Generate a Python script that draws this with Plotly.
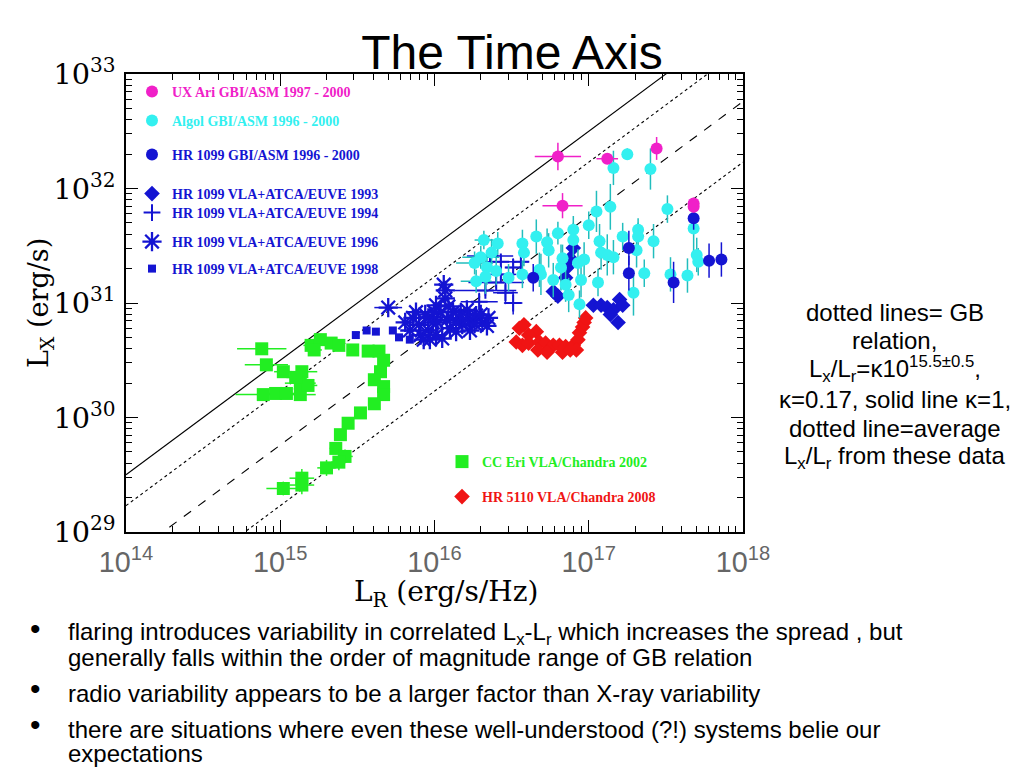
import numpy as np
import plotly.graph_objects as go

# ---------------- data (log10 values) ----------------
# CC Eri VLA/Chandra 2002 (green squares)
cc_lr = [14.88,14.91,15.02,15.14,14.89,14.97,15.04,15.13,15.13,15.18,15.10,15.20,15.26,15.33,15.38,15.22,15.47,15.57,
         15.64,15.67,15.65,15.61,15.67,15.67,15.61,15.52,15.44,15.39,15.36,15.42,15.38,15.30,15.14,15.14,15.02]
cc_lx = [30.60,30.46,30.40,30.40,30.20,30.21,30.21,30.20,30.30,30.28,30.35,30.63,30.68,30.65,30.63,30.59,30.59,30.58,
         30.58,30.50,30.40,30.33,30.27,30.20,30.12,30.04,29.95,29.85,29.73,29.66,29.61,29.56,29.47,29.41,29.38]
cc_xerr = [0.16,0.14,0.06,0.10,0.18,0.08,0.08,0.10,0.10,0.06,0.06,0.05,0.05,0.05,0.04,0.05,0.03,0.03,
           0.03,0.03,0.03,0.03,0.03,0.03,0.03,0.03,0.03,0.03,0.04,0.05,0.05,0.06,0.08,0.08,0.11]
cc_yerr = [0.02,0.02,0.02,0.03,0.02,0.03,0.03,0.04,0.04,0.04,0.03,0.02,0.02,0.02,0.02,0.02,0.02,0.02,
           0.02,0.02,0.02,0.02,0.02,0.02,0.02,0.02,0.03,0.03,0.05,0.06,0.07,0.07,0.08,0.08,0.06]

# HR 1099 VLA+ATCA/EUVE 1998 (blue squares)
h98_lr = [15.49,15.56,15.62,15.73,15.77,15.84]
h98_lx = [30.72,30.76,30.75,30.76,30.70,30.68]

# HR 1099 VLA+ATCA/EUVE 1996 (blue asterisks)
h96_lr = [15.70,15.81,15.86,15.90,15.94,15.96,15.99,16.01,16.04,16.07,16.07,16.08,16.10,16.12,16.16,16.18,16.21,
          16.23,16.27,16.31,16.35,15.91,15.97,16.05,16.14,16.01,16.23,
          15.84,15.88,15.93,16.02,16.09,16.14,16.17,16.22,16.26,16.30,16.34,16.06,15.96,16.00]
h96_lx = [30.96,30.83,30.87,30.81,30.90,30.76,30.83,30.72,30.92,31.04,31.11,30.85,30.78,30.92,30.87,30.81,30.94,
          30.85,30.89,30.83,30.87,30.72,30.68,30.69,30.75,30.98,30.76,
          30.76,30.92,30.68,30.83,30.97,30.83,30.90,30.87,30.82,30.90,30.80,31.16,30.87,30.92]
h96_xerr = [0.09,0.03,0.03,0.02,0.03,0.03,0.02,0.03,0.03,0.02,0.02,0.03,0.03,0.03,0.03,0.03,0.03,
            0.03,0.03,0.03,0.03,0.02,0.02,0.03,0.03,0.03,0.03,
            0.03,0.02,0.03,0.03,0.02,0.03,0.03,0.02,0.03,0.03,0.03,0.02,0.02,0.03]

# HR 1099 VLA+ATCA/EUVE 1994 (blue plus)
h94_lr = [16.36,16.43,16.51,16.40,16.46,16.51,16.33,16.56,16.29,16.43]
h94_lx = [31.41,31.36,31.31,31.18,31.09,31.00,31.11,31.36,31.01,31.25]
h94_xerr = [0.15,0.10,0.05,0.18,0.08,0.06,0.20,0.05,0.12,0.10]
h94_yerr = [0.05,0.05,0.08,0.05,0.10,0.10,0.05,0.05,0.08,0.05]

# HR 1099 VLA+ATCA/EUVE 1993 (blue diamonds)
h93_lr = [17.03,17.08,17.12,17.16,17.20,17.22,17.19,17.14,16.77,16.80,16.90,16.88,16.86,16.85]
h93_lx = [30.98,30.98,30.96,30.94,31.03,30.98,30.83,30.90,31.10,31.06,31.48,31.39,31.31,31.22]

# HR 5110 VLA/Chandra 2008 (red diamonds)
hr5110_lr = [16.55,16.58,16.66,16.61,16.53,16.57,16.61,16.68,16.72,16.77,16.81,16.85,16.90,16.93,16.94,16.96,
             16.97,16.98,16.92,16.67,16.73,16.83,16.88]
hr5110_lx = [30.78,30.81,30.75,30.72,30.66,30.63,30.65,30.66,30.65,30.63,30.63,30.62,30.63,30.68,30.74,30.79,
             30.83,30.87,30.59,30.59,30.57,30.57,30.59]

# Algol GBI/ASM 1996-2000 (cyan circles)
algol_lr = [16.32,16.41,16.30,16.37,16.34,16.40,16.33,16.48,16.57,16.66,16.73,16.74,16.80,16.90,16.90,16.58,16.68,
            16.69,16.57,16.77,16.82,16.85,16.87,16.93,16.97,16.95,16.94,17.00,17.05,17.14,17.07,17.08,17.12,17.16,
            17.06,17.22,17.31,17.32,17.32,17.29,17.36,17.42,17.51,17.53,17.64,17.68,17.70,17.71,17.16,17.25,17.40,
            16.83,16.26,16.27]
algol_lx = [31.55,31.52,31.40,31.44,31.31,31.28,31.23,31.22,31.52,31.58,31.53,31.46,31.61,31.64,31.55,31.44,31.29,
            31.25,31.25,31.20,31.31,31.16,31.07,31.35,31.38,31.20,30.99,31.68,31.80,31.84,31.54,31.44,31.42,31.40,
            31.18,31.58,31.46,31.64,31.58,31.09,31.26,31.54,31.82,31.25,31.24,31.65,31.42,31.36,32.18,32.30,32.17,
            31.39,31.35,31.19]
algol_yerr = [0.08,0.10,0.10,0.12,0.15,0.12,0.15,0.12,0.12,0.15,0.12,0.15,0.10,0.12,0.15,0.12,0.15,0.18,
              0.12,0.15,0.20,0.15,0.15,0.12,0.15,0.15,0.12,0.12,0.18,0.20,0.15,0.15,0.18,0.15,0.12,0.12,
              0.15,0.10,0.12,0.20,0.12,0.15,0.12,0.15,0.15,0.20,0.15,0.12,0.15,0.05,0.18,0.12,0.10,0.10]
algol_xerr = [0.06,0,0.12,0,0,0,0,0,0,0,0,0,0,0,0,0,0,0,0,0,0,0,0,0,0,0,0,0,0,0,0,0,0,0,0,0,0,0,0,0,0,0,0,0,
              0,0,0,0,0,0,0,0,0.12,0.10]

# HR 1099 GBI/ASM 1996-2000 (blue circles)
hrgbi_lr = [16.64,17.26,17.26,17.55,17.68,17.78,17.86]
hrgbi_lx = [31.22,31.48,31.26,31.18,31.74,31.37,31.38]
hrgbi_yerr = [0.12,0.15,0.15,0.18,0.10,0.15,0.15]

# UX Ari GBI/ASM 1997-2000 (magenta circles)
uxari_lr = [16.80,16.83,17.12,17.44,17.68,17.68]
uxari_lx = [32.28,31.85,32.26,32.35,31.87,31.84]
uxari_xerr = [0.15,0.13,0.07,0.02,0.02,0.02]
uxari_yerr = [0.12,0.11,0.04,0.10,0.05,0.05]

# Relation lines: log10(Lx/Lr)
line_logratio = [15.5, 15.23, 14.76, 14.23]
line_dash = ["solid", "dot", "dash", "dot"]
x_range_log = [14, 18]
y_range_log = [29, 33]

legend_labels = ["UX Ari GBI/ASM 1997 - 2000", "Algol GBI/ASM 1996 - 2000", "HR 1099 GBI/ASM 1996 - 2000",
                 "HR 1099 VLA+ATCA/EUVE 1993", "HR 1099 VLA+ATCA/EUVE 1994", "HR 1099 VLA+ATCA/EUVE 1996",
                 "HR 1099 VLA+ATCA/EUVE 1998", "CC Eri VLA/Chandra 2002", "HR 5110 VLA/Chandra 2008"]

note_lines = ["dotted lines= GB", "relation,",
              "L<sub>x</sub>/L<sub>r</sub>=κ10<sup>15.5±0.5</sup>,",
              "κ=0.17, solid line κ=1,", "dotted line=average",
              "L<sub>x</sub>/L<sub>r</sub> from these data"]
bullet_lines = [("•", "flaring introduces variability in correlated L<sub>x</sub>-L<sub>r</sub> which increases the spread , but"),
                ("", "generally falls within the order of magnitude range of GB relation"),
                ("•", "radio variability appears to be a larger factor than X-ray variability"),
                ("•", "there are situations where even these well-understood (?!) systems belie our"),
                ("", "expectations")]

# ---------------- helpers ----------------
def lin(v):
    return 10 ** np.array(v, dtype=float)

def err(vlog, edex):
    v = lin(vlog)
    e = np.array(edex, dtype=float)
    return dict(type="data", symmetric=False, array=v * (10 ** e - 1), arrayminus=v * (1 - 10 ** (-e)))

MAG = "#F020C8"
CYAN = "#33F0F0"
CYAN_E = "#22BDBD"
BLUE = "#1414D2"
GREEN = "#22EE22"
RED = "#F01414"

fig = go.Figure()

xl = lin(x_range_log)
for r, d in zip(line_logratio, line_dash):
    fig.add_trace(go.Scatter(x=xl, y=xl * 10 ** r, mode="lines",
                             line=dict(color="black", width=1.1, dash=d), showlegend=False, hoverinfo="skip"))

def add(name, lr, lx, sym, color, size, legend, ex=None, ey=None, ecolor=None, lw=0, ew=1.5):
    marker = dict(symbol=sym, size=size, color=color)
    if "open" in sym:
        marker["line"] = dict(color=color, width=lw)
    else:
        marker["line"] = dict(width=0)
    kw = {}
    if ex is not None:
        d = err(lr, ex); d.update(color=ecolor or color, thickness=ew, width=0); kw["error_x"] = d
    if ey is not None:
        d = err(lx, ey); d.update(color=ecolor or color, thickness=ew, width=0); kw["error_y"] = d
    fig.add_trace(go.Scatter(x=lin(lr), y=lin(lx), mode="markers", marker=marker,
                             name="<b>%s</b>" % name, legend=legend, **kw))

add(legend_labels[7], cc_lr, cc_lx, "square", GREEN, 13, "legend8", ex=cc_xerr, ey=cc_yerr)
add(legend_labels[6], h98_lr, h98_lx, "square", BLUE, 8, "legend7")
add(legend_labels[5], h96_lr, h96_lx, "asterisk-open", BLUE, 16, "legend6", ex=h96_xerr, lw=2.3)
add(legend_labels[4], h94_lr, h94_lx, "cross-thin-open", BLUE, 12, "legend5", ex=h94_xerr, ey=h94_yerr, lw=2)
add(legend_labels[8], hr5110_lr, hr5110_lx, "diamond", RED, 12, "legend9")
add(legend_labels[3], h93_lr, h93_lx, "diamond", BLUE, 12, "legend4")
add(legend_labels[1], algol_lr, algol_lx, "circle", CYAN, 12, "legend2", ex=algol_xerr, ey=algol_yerr, ecolor=CYAN_E)
add(legend_labels[2], hrgbi_lr, hrgbi_lx, "circle", BLUE, 12, "legend3", ey=hrgbi_yerr)
add(legend_labels[0], uxari_lr, uxari_lx, "circle", MAG, 12, "legend", ex=uxari_xerr, ey=uxari_yerr)

# page has an 8px body margin: figure pixel = reference pixel - 8
OFF = 8
W, H = 1024 - OFF, 768 - OFF
L, R, T, B = 126 - OFF, 743 - OFF, 74 - OFF, 532 - OFF
# paper coordinates from reference pixel positions
def px(xp): return (xp - 126) / (743 - 126)
def py(yp): return (532 - yp) / (532 - 74)

legend_rows = {"legend": (92, MAG), "legend2": (121, CYAN), "legend3": (155, BLUE), "legend4": (194, BLUE),
               "legend5": (213, BLUE), "legend6": (242, BLUE), "legend7": (269, BLUE),
               "legend8": (462, GREEN), "legend9": (497, RED)}
layout_legends = {}
for key, (yy, col) in legend_rows.items():
    xx = 132 if key not in ("legend8", "legend9") else 442
    layout_legends[key] = dict(x=px(xx), y=py(yy), xanchor="left", yanchor="middle", bgcolor="rgba(0,0,0,0)",
                               borderwidth=0, font=dict(family="Liberation Sans", size=14, color=col),
                               itemclick=False, itemdoubleclick=False)
for key in layout_legends:
    layout_legends[key]["font"]["family"] = "Liberation Serif"

ann = []
ys_note = [312, 340, 369, 399, 428, 457]
for t, yy in zip(note_lines, ys_note):
    ann.append(dict(text=t, x=px(895), y=py(yy), xref="paper", yref="paper", xanchor="center", yanchor="middle",
                    showarrow=False, font=dict(family="Liberation Sans", size=24, color="black")))
ys_b = [633, 657, 693, 729, 753]
for (b, t), yy in zip(bullet_lines, ys_b):
    ann.append(dict(text=t, x=px(66), y=py(yy), xref="paper", yref="paper", xanchor="left", yanchor="middle",
                    showarrow=False, font=dict(family="Liberation Sans", size=24, color="black")))
    if b:
        ann.append(dict(text=b, x=px(35), y=py(yy - 5), xref="paper", yref="paper", xanchor="center",
                        yanchor="middle", showarrow=False, font=dict(family="Liberation Sans", size=30, color="black")))
ann.append(dict(text="L<sub>X</sub> (erg/s)", x=px(40), y=py(303), xref="paper", yref="paper", textangle=-90,
                xanchor="center", yanchor="middle", showarrow=False,
                font=dict(family="DejaVu Serif", size=27, color="black")))
ann.append(dict(text="L<sub>R</sub> (erg/s/Hz)", x=px(446), y=py(593), xref="paper", yref="paper",
                xanchor="center", yanchor="middle", showarrow=False,
                font=dict(family="DejaVu Serif", size=28, color="black")))

axis_common = dict(type="log", showgrid=False, zeroline=False, showline=True, linecolor="black", linewidth=1.5,
                   mirror="allticks", ticks="inside", ticklen=12, tickwidth=1.2, tickcolor="black",
                   dtick=1, exponentformat="power",
                   minor=dict(ticks="inside", ticklen=6, tickwidth=1, tickcolor="black", dtick="D1", showgrid=False))

fig.update_layout(
    width=W, height=H, autosize=False,
    margin=dict(l=L, r=W - R, t=T, b=H - B),
    paper_bgcolor="white", plot_bgcolor="white",
    title=dict(text="The Time Axis", x=(512 - OFF) / W, xanchor="center", y=1 - (52 - OFF) / H, yanchor="middle",
               font=dict(family="Liberation Sans", size=48, color="black")),
    xaxis=dict(range=x_range_log, tickfont=dict(family="Liberation Sans", size=23, color="#666666"),
               ticklabelstandoff=5, **axis_common),
    yaxis=dict(range=y_range_log, tickfont=dict(family="DejaVu Serif", size=23, color="black"),
               ticklabelstandoff=4, **axis_common),
    annotations=ann,
    **layout_legends,
)

fig.write_html("out.html")
